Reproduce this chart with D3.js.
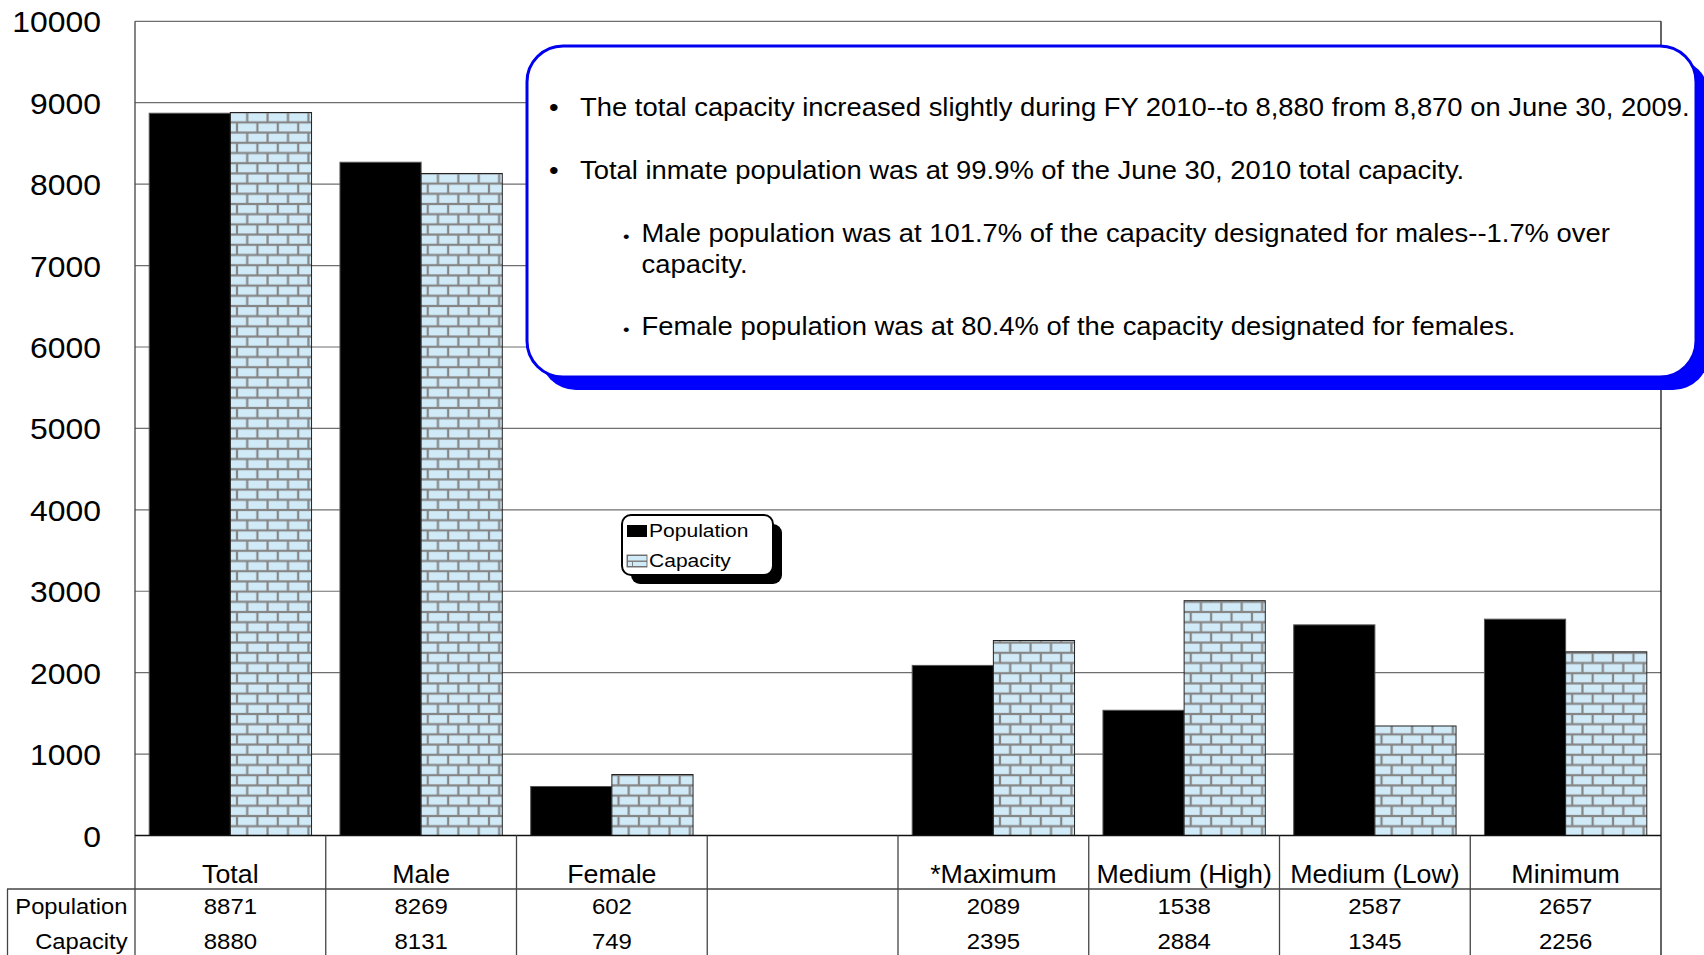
<!DOCTYPE html>
<html>
<head>
<meta charset="utf-8">
<script src="https://cdn.jsdelivr.net/npm/d3@7"></script>
<style>
  html, body { margin: 0; padding: 0; background: #fff; }
  svg { display: block; font-family: "Liberation Sans", Arial, sans-serif; }
</style>
</head>
<body>
<svg id="chart" width="1704" height="955"></svg>
<script>
// ---------------- data ----------------
const categories = ["Total", "Male", "Female", "", "*Maximum", "Medium (High)", "Medium (Low)", "Minimum"];
const population = [8871, 8269, 602, null, 2089, 1538, 2587, 2657];
const capacity   = [8880, 8131, 749, null, 2395, 2884, 1345, 2256];
const seriesNames = ["Population", "Capacity"];
const yTicks = [0, 1000, 2000, 3000, 4000, 5000, 6000, 7000, 8000, 9000, 10000];
const calloutMain = [
  "The total capacity increased slightly during FY 2010--to 8,880 from 8,870 on June 30, 2009.",
  "Total inmate population was at 99.9% of the June 30, 2010 total capacity."
];
const calloutSub = [
  ["Male population was at 101.7% of the capacity designated for males--1.7% over", "capacity."],
  ["Female population was at 80.4% of the capacity designated for females."]
];

// ---------------- layout ----------------
const W = 1704, H = 955;
const plotL = 135, plotR = 1661, plotT = 21.3, plotB = 835.5;
const SX = 1.13; // horizontal stretch of the original image text
const svg = d3.select("#chart");

const x0 = d3.scaleBand().domain(categories).range([plotL, plotR]).padding(0);
const bw = x0.bandwidth();
const pad = bw * 0.0745;
const x1 = d3.scaleBand().domain(seriesNames).range([pad, bw - pad]).padding(0);
const y = d3.scaleLinear().domain([0, 10000]).range([plotB, plotT]);

// brick pattern
const defs = svg.append("defs");
const T = 20.4, M = 1.1;
const pat = defs.append("pattern").attr("id", "brick")
  .attr("patternUnits", "userSpaceOnUse").attr("width", T).attr("height", T);
pat.append("rect").attr("width", T).attr("height", T).attr("fill", "#858585");
const brickFill = "#d0eaf8";
pat.append("rect").attr("x", M).attr("y", M).attr("width", T - 2 * M).attr("height", T / 2 - 2 * M).attr("fill", brickFill);
pat.append("rect").attr("x", T / 2 + M).attr("y", T / 2 + M).attr("width", T - 2 * M).attr("height", T / 2 - 2 * M).attr("fill", brickFill);
pat.append("rect").attr("x", -T / 2 + M).attr("y", T / 2 + M).attr("width", T - 2 * M).attr("height", T / 2 - 2 * M).attr("fill", brickFill);

const pat2 = defs.append("pattern").attr("id", "brickSmall")
  .attr("patternUnits", "userSpaceOnUse").attr("width", 24).attr("height", 12).attr("x", 627).attr("y", 555);
pat2.append("rect").attr("width", 24).attr("height", 12).attr("fill", "#808080");
pat2.append("rect").attr("x", 1).attr("y", 1).attr("width", 22).attr("height", 4.5).attr("fill", brickFill);
pat2.append("rect").attr("x", 6).attr("y", 7).attr("width", 17).attr("height", 4).attr("fill", brickFill);
pat2.append("rect").attr("x", 1).attr("y", 7).attr("width", 4).attr("height", 4).attr("fill", brickFill);

// text helper (stretched horizontally like the source)
function stext(parent, x, yy, str, size, anchor, sx) {
  return parent.append("text")
    .attr("transform", `translate(${x},${yy}) scale(${sx === undefined ? SX : sx},1)`)
    .attr("text-anchor", anchor || "start")
    .attr("font-size", size)
    .attr("fill", "#000")
    .text(str);
}

// gridlines
svg.append("g").selectAll("line").data(yTicks.filter(d => d > 0 && d < 10000)).join("line")
  .attr("x1", plotL).attr("x2", plotR)
  .attr("y1", d => y(d)).attr("y2", d => y(d))
  .attr("stroke", "#6e6e6e").attr("stroke-width", 1.2);

// y axis labels through d3 axis
const yAxis = d3.axisLeft(y).tickValues(yTicks).tickSize(0).tickPadding(0).tickFormat(d3.format("d"));
const gy = svg.append("g").attr("transform", `translate(${plotL},0)`).call(yAxis);
gy.select(".domain").remove();
gy.selectAll(".tick text")
  .attr("x", null).attr("dy", null)
  .attr("font-family", "Liberation Sans, Arial, sans-serif")
  .attr("font-size", 29).attr("fill", "#000")
  .attr("transform", `translate(-34,10.5) scale(1.1,1)`)
  .attr("text-anchor", "end");

// bars
const rows = categories.map((c, i) => ({ c, vals: [population[i], capacity[i]] }));
const groups = svg.append("g").selectAll("g").data(rows).join("g")
  .attr("transform", d => `translate(${x0(d.c)},0)`);
groups.selectAll("rect").data(d => d.vals.map((v, k) => ({ s: seriesNames[k], v })).filter(e => e.v != null))
  .join("rect")
  .attr("x", e => x1(e.s)).attr("width", x1.bandwidth())
  .attr("y", e => y(e.v)).attr("height", e => y(0) - y(e.v))
  .attr("fill", e => e.s === "Population" ? "#000" : "url(#brick)")
  .attr("stroke", e => e.s === "Population" ? "#555" : "#222")
  .attr("stroke-width", 1);

// plot borders
svg.append("line").attr("x1", plotL).attr("x2", plotR).attr("y1", plotT).attr("y2", plotT).attr("stroke", "#6e6e6e").attr("stroke-width", 1.2);
svg.append("line").attr("x1", plotL).attr("x2", plotL).attr("y1", plotT).attr("y2", H).attr("stroke", "#444").attr("stroke-width", 1.3);
svg.append("line").attr("x1", plotR).attr("x2", plotR).attr("y1", plotT).attr("y2", H).attr("stroke", "#111").attr("stroke-width", 1.3);
svg.append("line").attr("x1", plotL).attr("x2", plotR).attr("y1", plotB).attr("y2", plotB).attr("stroke", "#111").attr("stroke-width", 1.5);

// data table
const rowLineY = 889;
svg.append("line").attr("x1", 7).attr("x2", plotR).attr("y1", rowLineY).attr("y2", rowLineY).attr("stroke", "#444").attr("stroke-width", 1.3);
svg.append("line").attr("x1", 7.5).attr("x2", 7.5).attr("y1", rowLineY).attr("y2", H).attr("stroke", "#444").attr("stroke-width", 1.3);
svg.append("g").selectAll("line").data(categories.slice(1)).join("line")
  .attr("x1", d => x0(d)).attr("x2", d => x0(d))
  .attr("y1", plotB).attr("y2", H)
  .attr("stroke", "#444").attr("stroke-width", 1.3);

const tbl = svg.append("g");
categories.forEach((c, i) => {
  const cx = x0(c) + bw / 2;
  if (c) stext(tbl, cx, 883, c, 25.5, "middle", 1.05);
  if (population[i] != null) stext(tbl, cx, 914, String(population[i]), 22, "middle", 1.09);
  if (capacity[i] != null) stext(tbl, cx, 949, String(capacity[i]), 22, "middle", 1.09);
});
stext(tbl, 127.5, 914, seriesNames[0], 22, "end", 1.08);
stext(tbl, 127.5, 949, seriesNames[1], 22, "end", 1.08);

// legend
const lg = svg.append("g");
lg.append("rect").attr("x", 631).attr("y", 524).attr("width", 151).attr("height", 60).attr("rx", 9).attr("fill", "#000");
lg.append("rect").attr("x", 622).attr("y", 515).attr("width", 151).attr("height", 60).attr("rx", 9)
  .attr("fill", "#fff").attr("stroke", "#000").attr("stroke-width", 2);
lg.append("rect").attr("x", 627).attr("y", 525).attr("width", 20).attr("height", 12).attr("fill", "#000");
lg.append("rect").attr("x", 627).attr("y", 555).attr("width", 20).attr("height", 12).attr("fill", "url(#brickSmall)").attr("stroke", "#555").attr("stroke-width", 0.8);
stext(lg, 649, 537, seriesNames[0], 18.3, "start", 1.15);
stext(lg, 649, 567, seriesNames[1], 18.3, "start", 1.15);

// callout
const co = svg.append("g");
co.append("rect").attr("x", 540).attr("y", 59).attr("width", 1169).attr("height", 331).attr("rx", 36).attr("fill", "#0000ff");
co.append("rect").attr("x", 527).attr("y", 46).attr("width", 1169).attr("height", 331).attr("rx", 36)
  .attr("fill", "#fff").attr("stroke", "#0000f0").attr("stroke-width", 3);
const CS = 1.096, CF = 25;
const mainY = [116, 179];
calloutMain.forEach((t, i) => {
  stext(co, 549, mainY[i], "•", CF, "start", CS);
  stext(co, 580, mainY[i], t, CF, "start", CS);
});
const subY = [[241.7, 273], [335]];
calloutSub.forEach((lines, i) => {
  stext(co, 623, subY[i][0], "•", 17, "start", CS);
  lines.forEach((t, j) => stext(co, 641.5, subY[i][j], t, CF, "start", CS));
});
</script>
</body>
</html>
